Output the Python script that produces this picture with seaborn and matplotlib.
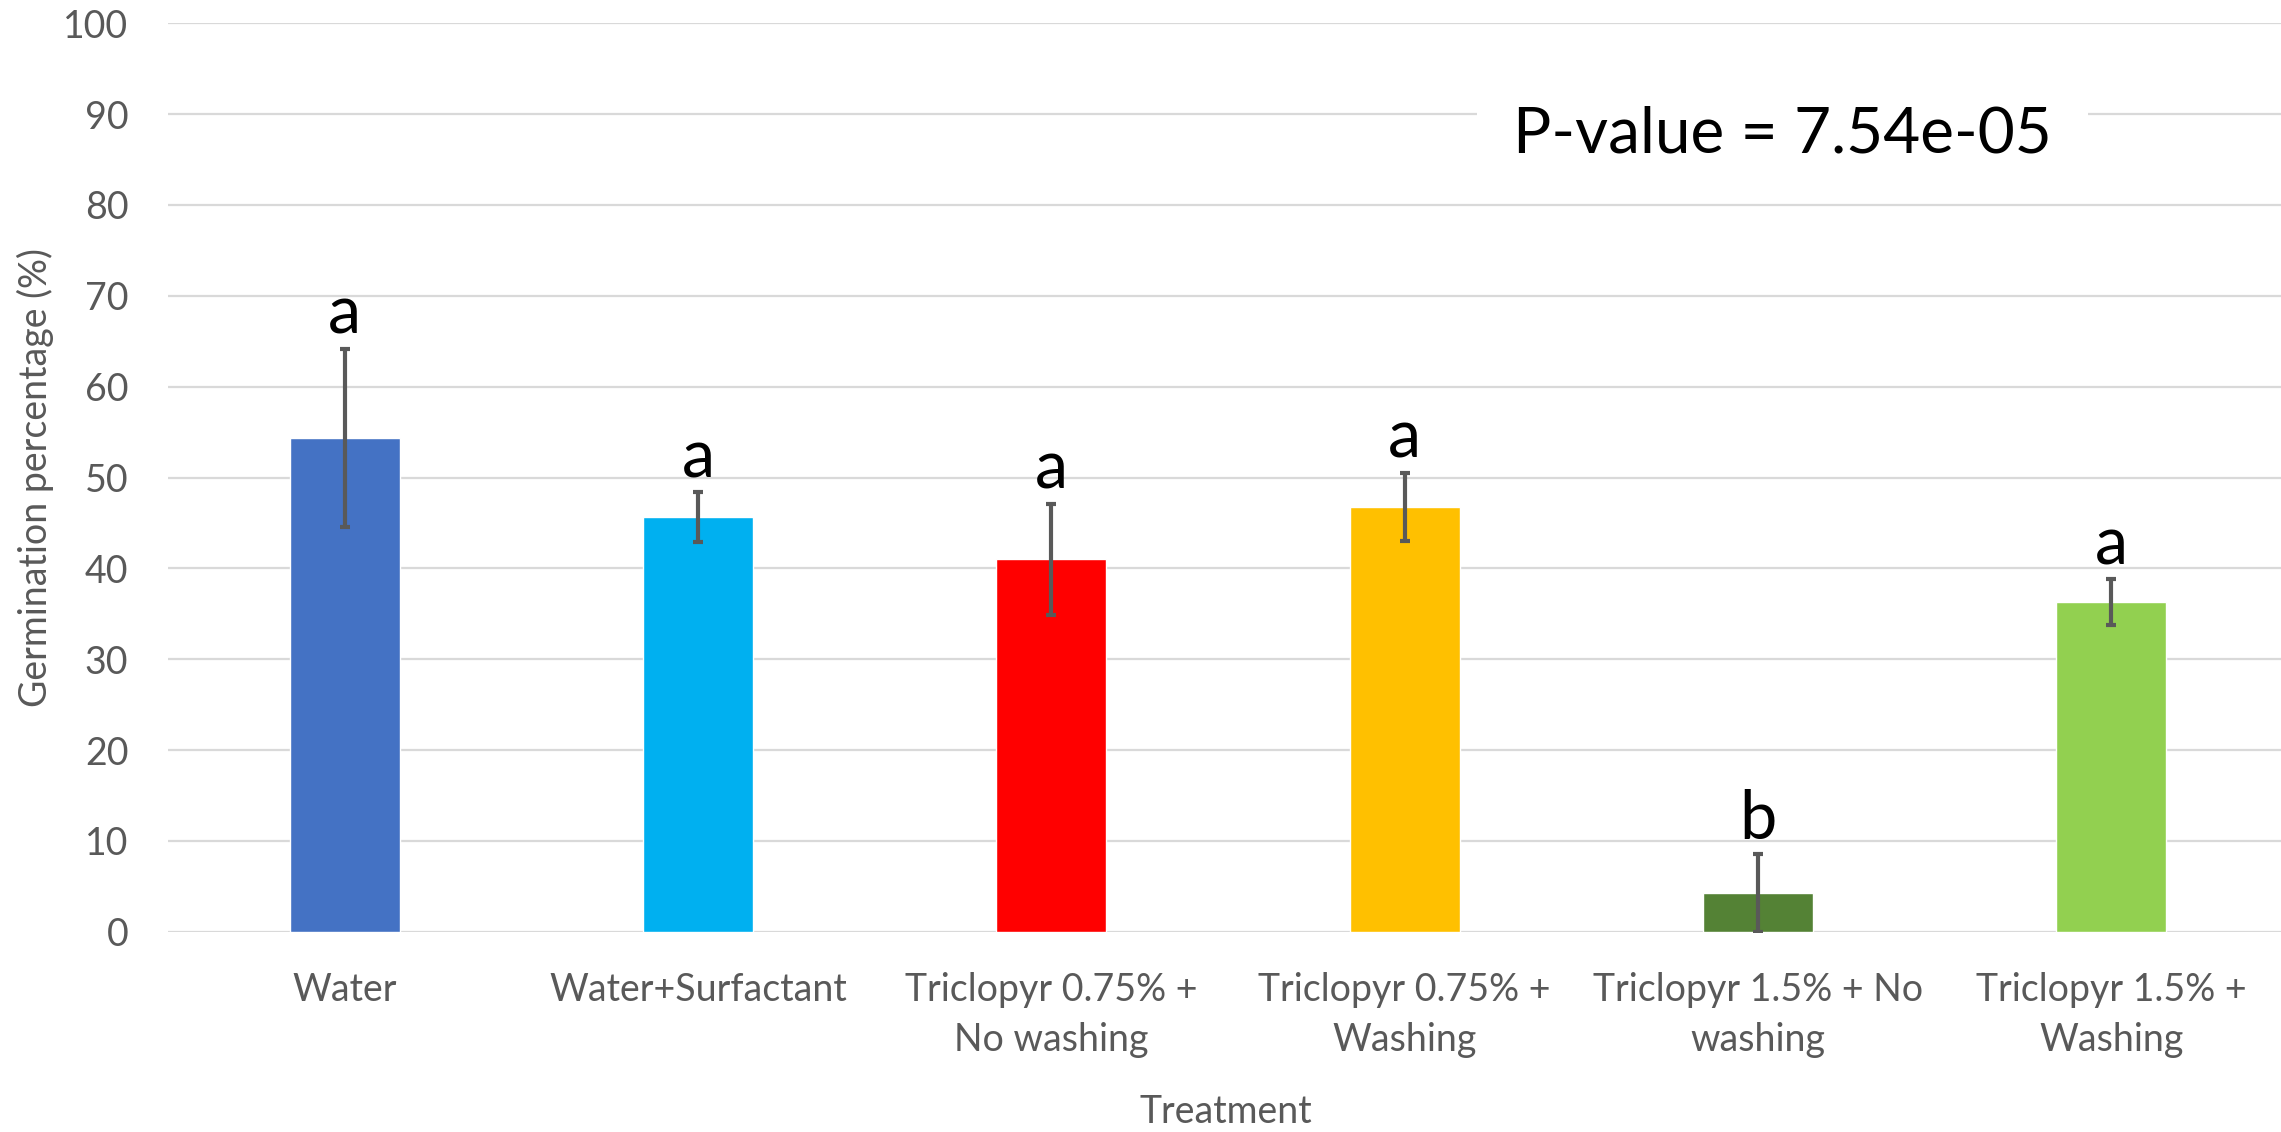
import numpy as np
import pandas as pd
import matplotlib
matplotlib.use("Agg")
import matplotlib.pyplot as plt
import seaborn as sns

# data
treatments = ["Water", "Water+Surfactant", "Triclopyr 0.75% +\nNo washing",
              "Triclopyr 0.75% +\nWashing", "Triclopyr 1.5% + No\nwashing",
              "Triclopyr 1.5% +\nWashing"]
germination = [54.4, 45.6, 41.0, 46.8, 4.3, 36.3]
error = [9.8, 2.75, 6.1, 3.75, 4.3, 2.5]
letters = ["a", "a", "a", "a", "b", "a"]
bar_colors = ["#4472C4", "#00B0F0", "#FF0000", "#FFC000", "#548235", "#92D050"]
p_text = "P-value = 7.54e-05"

df = pd.DataFrame({"Treatment": treatments, "Germination": germination, "err": error})

sns.set_theme(style="white")
plt.rcParams['font.family'] = ['Lato', 'DejaVu Sans']

W, H = 2281, 1132
fig = plt.figure(figsize=(W / 100, H / 100), dpi=100)
# plot area in pixels: left 168, right 2288, y=0 at 931.7, y=100 at 23.3
ax = fig.add_axes([168 / W, (H - 931.7) / H, 2120 / W, 908.4 / H])

sns.barplot(data=df, x="Treatment", y="Germination", hue="Treatment",
            palette=bar_colors, width=0.311, errorbar=None, legend=False,
            saturation=1, ax=ax)

# error bars
ax.errorbar(np.arange(len(df)), df["Germination"], yerr=df["err"], fmt="none",
            ecolor="#595959", elinewidth=3.0, capsize=3.6, capthick=3.0, zorder=5)

# significance letters
for i, (v, e, lt) in enumerate(zip(germination, error, letters)):
    ax.text(i, v + e + 1.65, lt, ha="center", va="baseline", fontsize=48, color="black")

ax.set_ylim(0, 100)
ax.set_xlim(-0.5, len(df) - 0.5)
ax.set_yticks(np.arange(0, 101, 10))
ax.yaxis.grid(True, color="#D9D9D9", linewidth=1.6)
ax.set_axisbelow(True)
for s in ax.spines.values():
    s.set_visible(False)
ax.tick_params(axis="y", length=0, pad=28.5, labelsize=27, labelcolor="#595959")
ax.tick_params(axis="x", length=0, pad=29, labelsize=27, labelcolor="#595959")
for lab in ax.get_xticklabels():
    lab.set_linespacing(1.5)
ax.set_xlabel("")
ax.set_ylabel("")

# axis titles
fig.text(35 / W, 0.5 + (H / 2 - 477.5) / H, "Germination percentage (%)", rotation=90,
         ha="center", va="center", fontsize=27, color="#595959")
fig.text(1226 / W, (H - 1123) / H, "Treatment", ha="center", va="baseline",
         fontsize=27, color="#595959")

# p-value box
ax.text((1513 - 168) / 2120, (931.7 - 153) / 908.4, p_text, transform=ax.transAxes,
        ha="left", va="baseline", fontsize=46, color="black",
        bbox=dict(facecolor="white", edgecolor="none", pad=26), zorder=6)

fig.savefig("out.png", dpi=100)
